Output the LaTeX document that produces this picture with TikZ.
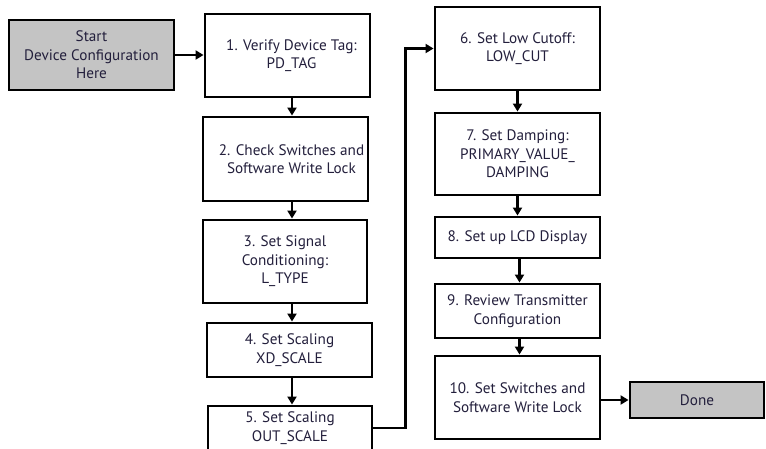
\documentclass[tikz,border=0pt]{standalone}
\usepackage{fontspec}
\setmainfont{PT Sans}
\usetikzlibrary{arrows.meta}
\definecolor{stepink}{RGB}{35,31,60}
\definecolor{termgray}{RGB}{196,196,196}
\begin{document}
\begin{tikzpicture}[x=1pt,y=-1pt,
    stepbox/.style={draw=black,line width=2.9pt,fill=white,text=stepink,
      align=center,inner sep=0pt,minimum width=165pt,
      font=\fontsize{15.2}{18.5}\selectfont},
    termbox/.style={stepbox,fill=termgray},
    arr/.style={line width=2.6pt,-{Triangle[length=8pt,width=9pt]}}]
  \useasboundingbox (0,0) rectangle (766,448);
  \draw
    (91.5,55) node[termbox,minimum height=70pt] (start){Start\\Device Configuration\\Here}
    (287.5,55.5) node[stepbox,minimum height=83pt] (s1){\hspace*{8pt}1. Verify Device Tag:\\\hspace*{8pt}PD\_TAG}
    (285.5,159) node[stepbox,minimum height=84pt] (s2){\hspace*{12pt}2. Check Switches and\\\hspace*{12pt}Software Write Lock}
    (285,261.5) node[stepbox,minimum height=83pt,minimum width=164pt] (s3){3. Set Signal\\Conditioning:\\L\_TYPE}
    (289.5,350) node[stepbox,minimum height=54pt] (s4){4. Set Scaling\\XD\_SCALE}
    (290,428) node[stepbox,minimum height=44pt,minimum width=164pt] (s5){5. Set Scaling\\OUT\_SCALE}
    (517.5,48.5) node[stepbox,minimum height=83pt] (s6){6. Set Low Cutoff:\\LOW\_CUT}
    (517.5,154) node[stepbox,minimum height=82pt] (s7){7. Set Damping:\\PRIMARY\_VALUE\_\\DAMPING}
    (517.5,237.5) node[stepbox,minimum height=41pt] (s8){8. Set up LCD Display}
    (517.5,311) node[stepbox,minimum height=54pt] (s9){9. Review Transmitter\\Configuration}
    (517.5,397.5) node[stepbox,minimum height=83pt] (s10){10. Set Switches and\\Software Write Lock}
    (697,400) node[termbox,minimum height=36pt,minimum width=134pt] (done){Done};
  \coordinate (up) at (405.5,428);
  \begin{scope}[arr]
    \draw (start) to (s1.west |- start);
    \draw ([xshift=4.5pt]s1.south) to ([xshift=4.5pt]s1.south |- s2.north);
    \draw ([xshift=6.5pt]s2.south) to ([xshift=6.5pt]s2.south |- s3.north);
    \draw ([xshift=7pt]s3.south) to ([xshift=7pt]s3.south |- s4.north);
    \draw ([xshift=2.5pt]s4.south) to ([xshift=2.5pt]s4.south |- s5.north);
    \draw (s5.east |- up) -- (up) |- (s6.west);
    \draw (s6) to (s7);
    \draw (s7) to (s8);
    \draw ([xshift=2pt]s8.south) to ([xshift=2pt]s8.south |- s9.north);
    \draw ([xshift=2pt]s9.south) to ([xshift=2pt]s9.south |- s10.north);
    \draw (s10.east |- done) to (done);
  \end{scope}
\end{tikzpicture}
\end{document}
